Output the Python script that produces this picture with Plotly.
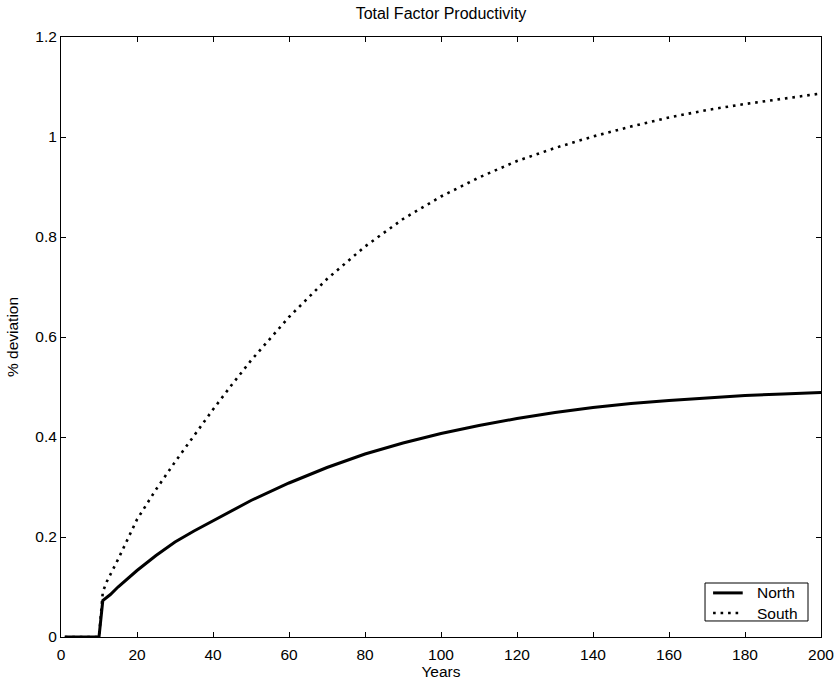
import plotly.graph_objects as go

years = [1, 10, 11, 12, 13, 15, 20, 25, 30, 35, 40, 45, 50, 60, 70, 80, 90, 100,
         110, 120, 130, 140, 150, 160, 170, 180, 190, 200]
north = [0, 0, 0.073, 0.079, 0.085, 0.100, 0.133, 0.163, 0.190, 0.212, 0.232, 0.253, 0.273,
         0.308, 0.339, 0.366, 0.388, 0.407, 0.423, 0.437, 0.449, 0.459, 0.467, 0.473,
         0.478, 0.483, 0.486, 0.489]
south = [0, 0, 0.090, 0.110, 0.125, 0.155, 0.235, 0.295, 0.350, 0.403, 0.455, 0.505, 0.553,
         0.640, 0.716, 0.781, 0.836, 0.881, 0.919, 0.952, 0.978, 1.001, 1.021, 1.039,
         1.054, 1.066, 1.077, 1.087]
series_names = ["North", "South"]

x_ticks = [0, 20, 40, 60, 80, 100, 120, 140, 160, 180, 200]
y_ticks = [0, 0.2, 0.4, 0.6, 0.8, 1.0, 1.2]
y_labels = ["0", "0.2", "0.4", "0.6", "0.8", "1", "1.2"]

FONT = "Liberation Sans, Arial, Helvetica, sans-serif"
FS = 15.5
styles = [dict(color="black", width=3),
          dict(color="black", width=2.6, dash="2.6px,4.9px")]

fig = go.Figure()
for name, ys, st in zip(series_names, [north, south], styles):
    fig.add_trace(go.Scatter(x=years, y=ys, mode="lines", name=name, line=st,
                             showlegend=False))

# compact legend box (plot-area paper coordinates)
L, R, B, T = 0.8474, 0.9829, 0.0267, 0.09
fig.add_shape(type="rect", xref="paper", yref="paper", x0=L, x1=R, y0=B, y1=T,
              line=dict(color="black", width=1), fillcolor="white", layer="above")
rows_y = [0.0735, 0.040]
for name, st, yy in zip(series_names, styles, rows_y):
    fig.add_shape(type="line", xref="paper", yref="paper", x0=0.858, x1=0.897,
                  y0=yy, y1=yy, line=st, layer="above")
    fig.add_annotation(text=name, xref="paper", yref="paper", x=0.9125, y=yy,
                       xanchor="left", yanchor="middle", showarrow=False,
                       font=dict(family=FONT, size=FS, color="black"))

axis_common = dict(showline=True, linecolor="black", linewidth=1, mirror="ticks",
                   ticks="inside", ticklen=5, tickcolor="black", tickwidth=1,
                   showgrid=False, zeroline=False, automargin=False,
                   tickfont=dict(family=FONT, size=FS, color="black"))

fig.update_layout(
    width=838, height=682,
    margin=dict(l=61, r=17, t=37, b=45, autoexpand=False),
    paper_bgcolor="white", plot_bgcolor="white",
    font=dict(family=FONT, size=FS, color="black"),
    title=dict(text="Total Factor Productivity", x=(61 + 821) / 2 / 838, xanchor="center",
               y=1 - 13 / 682, yanchor="middle", font=dict(family=FONT, size=16, color="black")),
    xaxis=dict(range=[0, 200], tickvals=x_ticks, ticktext=[str(v) for v in x_ticks],
               ticklabelstandoff=3,
               title=dict(text="Years", standoff=4, font=dict(family=FONT, size=FS)),
               **axis_common),
    yaxis=dict(range=[0, 1.2], tickvals=y_ticks, ticktext=y_labels,
               title=dict(text="% deviation", standoff=12, font=dict(family=FONT, size=FS)),
               **axis_common),
    showlegend=False,
)

fig.write_html("out.html")
